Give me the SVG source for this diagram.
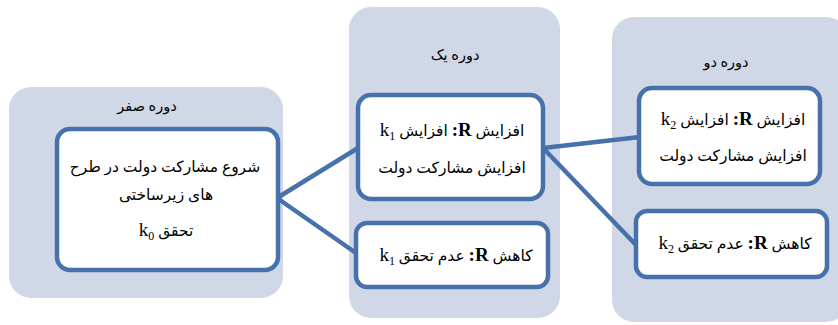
<svg xmlns="http://www.w3.org/2000/svg" width="838" height="325" viewBox="0 0 838 325">
<style>
.panel{fill:#D0D8E8;}
.node{fill:#FFFFFF;stroke:#4771AA;stroke-width:4.5;}
.conn{stroke:#4771AA;stroke-width:4.5;fill:none;stroke-linecap:round;}
.t{font-family:"Liberation Serif","DejaVu Sans",serif;font-size:15.5px;fill:#000;}
.title{font-family:"Liberation Serif","DejaVu Sans",serif;font-size:14.5px;fill:#000;}
.lat{font-family:"Liberation Serif",serif;font-size:19px;}
.sub{font-family:"Liberation Serif",serif;font-size:12px;}
</style>
<rect width="838" height="325" fill="#FFFFFF"/>
<g id="panel0"><rect class="panel" x="9" y="87" width="274" height="211" rx="22"/><text class="title" x="147" y="111" text-anchor="middle" direction="rtl">دوره صفر</text></g>
<g id="panel1"><rect class="panel" x="349" y="7" width="211" height="311" rx="22"/><text class="title" x="455" y="60" text-anchor="middle" direction="rtl">دوره یک</text></g>
<g id="panel2"><rect class="panel" x="612" y="17" width="236" height="305" rx="22"/><text class="title" x="726" y="67" text-anchor="middle" direction="rtl">دوره دو</text></g>
<g id="connectors">
<line class="conn" x1="277" y1="198" x2="358" y2="148"/>
<line class="conn" x1="277" y1="198" x2="356" y2="253"/>
<line class="conn" x1="543" y1="148" x2="640" y2="137"/>
<line class="conn" x1="543" y1="148" x2="636" y2="245"/>
</g>
<g id="n0"><rect class="node" x="57" y="129" width="221" height="141" rx="13"/>
<text class="t" x="165" y="172" text-anchor="middle" direction="rtl">شروع مشارکت دولت در طرح</text>
<text class="t" x="166" y="200" text-anchor="middle" direction="rtl">های زیرساختی</text>
<text class="t" x="166" y="236" text-anchor="middle" direction="rtl">تحقق <tspan class="lat">k</tspan><tspan class="sub" dy="4">0</tspan></text>
</g>
<g id="n1a"><rect class="node" x="358" y="95" width="185" height="104" rx="13"/>
<text class="t" x="452" y="136" text-anchor="middle" direction="rtl">افزایش <tspan class="lat" font-weight="bold">R:</tspan> افزایش <tspan class="lat">k</tspan><tspan class="sub" dy="4">1</tspan></text>
<text class="t" x="452" y="173" text-anchor="middle" direction="rtl">افزایش مشارکت دولت</text>
</g>
<g id="n1b"><rect class="node" x="356" y="223" width="192" height="64" rx="11"/>
<text class="t" x="456" y="261" text-anchor="middle" direction="rtl">کاهش <tspan class="lat" font-weight="bold">R:</tspan> عدم تحقق <tspan class="lat">k</tspan><tspan class="sub" dy="4">1</tspan></text>
</g>
<g id="n2a"><rect class="node" x="639" y="88" width="181" height="96" rx="13"/>
<text class="t" x="733" y="125" text-anchor="middle" direction="rtl">افزایش <tspan class="lat" font-weight="bold">R:</tspan>  افزایش <tspan class="lat">k</tspan><tspan class="sub" dy="4">2</tspan></text>
<text class="t" x="733" y="161" text-anchor="middle" direction="rtl">افزایش مشارکت دولت</text>
</g>
<g id="n2b"><rect class="node" x="636" y="211" width="191" height="66" rx="11"/>
<text class="t" x="735" y="249" text-anchor="middle" direction="rtl">کاهش <tspan class="lat" font-weight="bold">R:</tspan> عدم تحقق <tspan class="lat">k</tspan><tspan class="sub" dy="4">2</tspan></text>
</g>
</svg>
